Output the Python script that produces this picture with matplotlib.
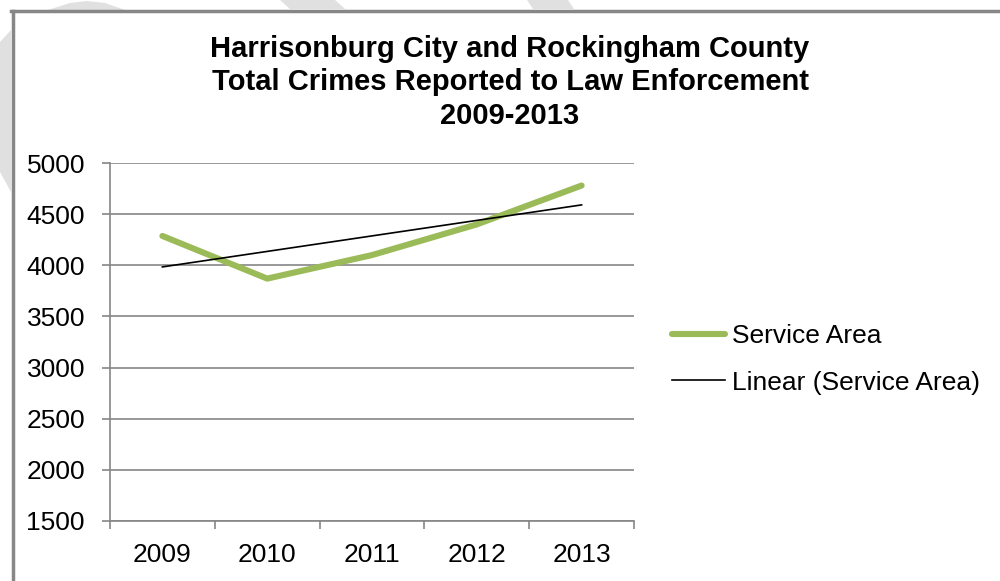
import numpy as np
import matplotlib.pyplot as plt
from matplotlib.lines import Line2D
from matplotlib.patches import Polygon

plt.rcParams['font.family'] = ['Liberation Sans', 'DejaVu Sans']

years = ['2009', '2010', '2011', '2012', '2013']
service_area = [4287, 3870, 4100, 4400, 4780]
y_ticks = [1500, 2000, 2500, 3000, 3500, 4000, 4500, 5000]

title = ('Harrisonburg City and Rockingham County\n'
         'Total Crimes Reported to Law Enforcement\n'
         '2009-2013')

W, H = 1000, 581


def px(x, y):
    # pixel position (from top left) to figure fraction
    return x / W, 1 - y / H


def main():
    fig = plt.figure(figsize=(10, 5.81), dpi=100)
    fig.patch.set_facecolor('white')

    # faint watermark bits left showing outside the frame
    wm = '#e0e0e0'
    for pts in ([(48, 10), (70, 3), (87, 1), (105, 3), (125, 10)],
                [(0, 42), (11, 30), (11, 192), (0, 172)],
                [(280, 0), (335, 0), (345, 9), (290, 9)],
                [(527, 0), (568, 0), (574, 9), (533, 9)]):
        fig.add_artist(Polygon([px(a, b) for a, b in pts], closed=True,
                               facecolor=wm, edgecolor='none',
                               transform=fig.transFigure, zorder=-3))

    # grey frame round the chart area
    fig.add_artist(Line2D([0.011, 1.0], [1 - 10.5 / H, 1 - 10.5 / H],
                          color='#878787', lw=2.5, transform=fig.transFigure))
    fig.add_artist(Line2D([0.0125, 0.0125], [0, 1 - 10.5 / H],
                          color='#878787', lw=2.5, transform=fig.transFigure))

    ax = fig.add_axes([0.110, 0.1033, 0.524, 0.6161])
    ax.patch.set_alpha(0)
    x = np.arange(len(years))

    # linear trend through the yearly totals
    coef = np.polyfit(x, service_area, 1)
    trend = np.polyval(coef, x)

    ax.plot(x, service_area, color='#9BBB59', lw=4.4, solid_capstyle='round',
            solid_joinstyle='round', zorder=3, label='Service Area')
    ax.plot([x[0], x[-1]], [trend[0], trend[-1]], color='black', lw=1.2,
            zorder=4, label='Linear (Service Area)')

    ax.set_xlim(-0.5, len(years) - 0.5)
    ax.set_ylim(1500, 5000)
    ax.set_yticks(y_ticks)
    ax.set_yticklabels([str(v) for v in y_ticks])
    ax.set_xticks(x)
    ax.set_xticklabels(years)
    ax.set_xticks(np.arange(-0.5, len(years)), minor=True)

    ax.grid(axis='y', color='#868686', lw=1.2)
    ax.set_axisbelow(True)
    for s in ['top', 'right']:
        ax.spines[s].set_visible(False)
    for s in ['left', 'bottom']:
        ax.spines[s].set_color('#868686')
        ax.spines[s].set_linewidth(1.2)

    ax.tick_params(axis='y', length=6, width=1.2, color='#868686',
                   labelsize=19, pad=12)
    ax.tick_params(axis='x', which='major', length=0, labelsize=19, pad=16)
    ax.tick_params(axis='x', which='minor', length=6, width=1.2,
                   color='#868686')

    fig.text(0.51, 1 - 35 / H, title, ha='center', va='top',
             fontsize=21, fontweight='bold', linespacing=1.24)

    fig.legend(loc='center left', bbox_to_anchor=px(672, 359.5),
               frameon=False, fontsize=19, handlelength=2.0,
               handletextpad=0.27, labelspacing=0.85,
               borderpad=0, borderaxespad=0)

    fig.savefig('out.png', dpi=100)


if __name__ == '__main__':
    main()
